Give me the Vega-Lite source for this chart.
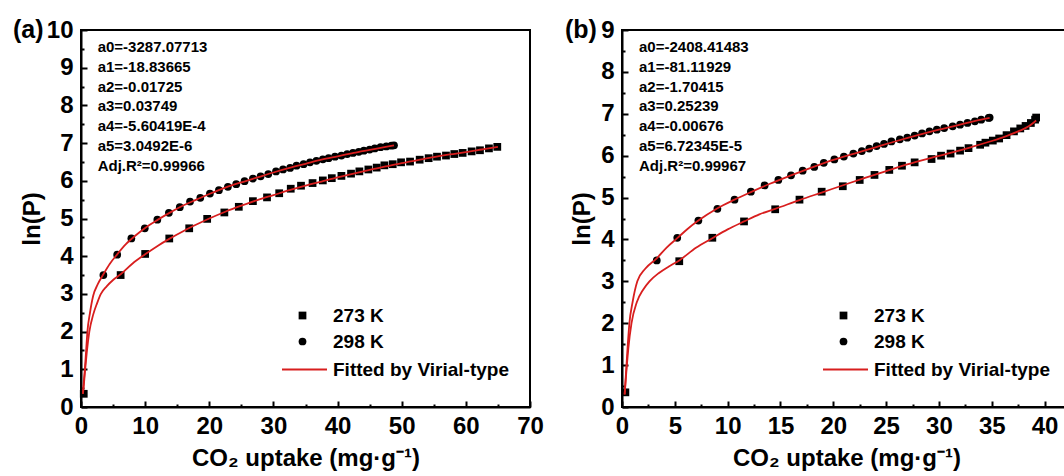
{
  "$schema": "https://vega.github.io/schema/vega-lite/v6.json",
  "padding": {"left": 12, "top": 17, "right": 0, "bottom": 0},
  "background": "white",
  "spacing": 19,
  "config": {
    "font": "Liberation Sans",
    "view": {"stroke": "black", "strokeWidth": 2},
    "axis": {"domainColor": "black", "domainWidth": 2, "tickColor": "black", "tickWidth": 2, "labelFont": "Liberation Sans", "labelFontSize": 24, "labelFontWeight": "bold", "labelColor": "black", "titleFont": "Liberation Sans", "titleFontSize": 24, "titleFontWeight": "bold", "titleColor": "black", "grid": false, "labelOverlap": false, "labelFlush": false},
    "title": {"font": "Liberation Sans", "fontSize": 25, "fontWeight": "bold", "color": "black"}
  },
  "resolve": {"scale": {"shape": "independent", "color": "independent"}, "legend": {"shape": "independent", "color": "independent"}},
  "datasets": {
    "a_pts": [
      {"T": "273 K", "uptake": 0.43, "lnP": 0.35}, {"T": "273 K", "uptake": 6.18, "lnP": 3.5}, {"T": "273 K", "uptake": 10.0, "lnP": 4.06}, {"T": "273 K", "uptake": 13.76, "lnP": 4.47}, {"T": "273 K", "uptake": 16.87, "lnP": 4.74}, {"T": "273 K", "uptake": 19.67, "lnP": 4.99}, {"T": "273 K", "uptake": 22.35, "lnP": 5.16}, {"T": "273 K", "uptake": 24.6, "lnP": 5.31}, {"T": "273 K", "uptake": 26.8, "lnP": 5.46}, {"T": "273 K", "uptake": 29.0, "lnP": 5.56}, {"T": "273 K", "uptake": 30.9, "lnP": 5.67}, {"T": "273 K", "uptake": 32.7, "lnP": 5.79}, {"T": "273 K", "uptake": 34.3, "lnP": 5.87}, {"T": "273 K", "uptake": 36.1, "lnP": 5.94}, {"T": "273 K", "uptake": 37.7, "lnP": 6.01}, {"T": "273 K", "uptake": 39.1, "lnP": 6.07}, {"T": "273 K", "uptake": 40.6, "lnP": 6.13}, {"T": "273 K", "uptake": 42.1, "lnP": 6.19}, {"T": "273 K", "uptake": 43.4, "lnP": 6.25}, {"T": "273 K", "uptake": 44.8, "lnP": 6.3}, {"T": "273 K", "uptake": 46.1, "lnP": 6.35}, {"T": "273 K", "uptake": 47.3, "lnP": 6.41}, {"T": "273 K", "uptake": 48.6, "lnP": 6.44}, {"T": "273 K", "uptake": 49.9, "lnP": 6.49}, {"T": "273 K", "uptake": 51.3, "lnP": 6.51}, {"T": "273 K", "uptake": 52.8, "lnP": 6.56}, {"T": "273 K", "uptake": 54.2, "lnP": 6.6}, {"T": "273 K", "uptake": 55.5, "lnP": 6.64}, {"T": "273 K", "uptake": 56.9, "lnP": 6.67}, {"T": "273 K", "uptake": 58.2, "lnP": 6.71}, {"T": "273 K", "uptake": 59.5, "lnP": 6.74}, {"T": "273 K", "uptake": 60.9, "lnP": 6.78}, {"T": "273 K", "uptake": 62.2, "lnP": 6.81}, {"T": "273 K", "uptake": 63.6, "lnP": 6.86}, {"T": "273 K", "uptake": 64.9, "lnP": 6.9},
      {"T": "298 K", "uptake": 3.49, "lnP": 3.5}, {"T": "298 K", "uptake": 5.64, "lnP": 4.04}, {"T": "298 K", "uptake": 7.85, "lnP": 4.47}, {"T": "298 K", "uptake": 9.94, "lnP": 4.74}, {"T": "298 K", "uptake": 11.9, "lnP": 4.97}, {"T": "298 K", "uptake": 13.7, "lnP": 5.15}, {"T": "298 K", "uptake": 15.4, "lnP": 5.3}, {"T": "298 K", "uptake": 17.0, "lnP": 5.45}, {"T": "298 K", "uptake": 18.6, "lnP": 5.55}, {"T": "298 K", "uptake": 20.1, "lnP": 5.66}, {"T": "298 K", "uptake": 21.5, "lnP": 5.75}, {"T": "298 K", "uptake": 22.9, "lnP": 5.84}, {"T": "298 K", "uptake": 24.2, "lnP": 5.91}, {"T": "298 K", "uptake": 25.5, "lnP": 5.99}, {"T": "298 K", "uptake": 26.8, "lnP": 6.06}, {"T": "298 K", "uptake": 28.0, "lnP": 6.12}, {"T": "298 K", "uptake": 29.2, "lnP": 6.18}, {"T": "298 K", "uptake": 30.4, "lnP": 6.25}, {"T": "298 K", "uptake": 31.5, "lnP": 6.3}, {"T": "298 K", "uptake": 32.6, "lnP": 6.34}, {"T": "298 K", "uptake": 33.6, "lnP": 6.4}, {"T": "298 K", "uptake": 34.7, "lnP": 6.44}, {"T": "298 K", "uptake": 35.7, "lnP": 6.49}, {"T": "298 K", "uptake": 36.7, "lnP": 6.53}, {"T": "298 K", "uptake": 37.7, "lnP": 6.57}, {"T": "298 K", "uptake": 38.6, "lnP": 6.6}, {"T": "298 K", "uptake": 39.6, "lnP": 6.64}, {"T": "298 K", "uptake": 40.6, "lnP": 6.67}, {"T": "298 K", "uptake": 41.5, "lnP": 6.71}, {"T": "298 K", "uptake": 42.4, "lnP": 6.74}, {"T": "298 K", "uptake": 43.3, "lnP": 6.77}, {"T": "298 K", "uptake": 44.1, "lnP": 6.8}, {"T": "298 K", "uptake": 45.0, "lnP": 6.83}, {"T": "298 K", "uptake": 45.8, "lnP": 6.86}, {"T": "298 K", "uptake": 46.7, "lnP": 6.89}, {"T": "298 K", "uptake": 47.6, "lnP": 6.91}, {"T": "298 K", "uptake": 48.4, "lnP": 6.93}, {"T": "298 K", "uptake": 48.8, "lnP": 6.94}
    ],
    "a_fit": [
      {"T": "298 K", "uptake": 0.3, "lnP": 0.35}, {"T": "298 K", "uptake": 0.45, "lnP": 0.7}, {"T": "298 K", "uptake": 0.6, "lnP": 1.0}, {"T": "298 K", "uptake": 0.8, "lnP": 1.5}, {"T": "298 K", "uptake": 1.0, "lnP": 2.0}, {"T": "298 K", "uptake": 1.4, "lnP": 2.5}, {"T": "298 K", "uptake": 1.9, "lnP": 2.95}, {"T": "298 K", "uptake": 2.6, "lnP": 3.25}, {"T": "298 K", "uptake": 3.49, "lnP": 3.52}, {"T": "298 K", "uptake": 4.5, "lnP": 3.8}, {"T": "298 K", "uptake": 5.64, "lnP": 4.05}, {"T": "298 K", "uptake": 7.0, "lnP": 4.32}, {"T": "298 K", "uptake": 8.5, "lnP": 4.55}, {"T": "298 K", "uptake": 10.0, "lnP": 4.75}, {"T": "298 K", "uptake": 12.0, "lnP": 4.97}, {"T": "298 K", "uptake": 14.0, "lnP": 5.17}, {"T": "298 K", "uptake": 16.0, "lnP": 5.35}, {"T": "298 K", "uptake": 18.0, "lnP": 5.5}, {"T": "298 K", "uptake": 20.0, "lnP": 5.65}, {"T": "298 K", "uptake": 22.5, "lnP": 5.82}, {"T": "298 K", "uptake": 25.0, "lnP": 5.96}, {"T": "298 K", "uptake": 27.5, "lnP": 6.09}, {"T": "298 K", "uptake": 30.0, "lnP": 6.22}, {"T": "298 K", "uptake": 32.5, "lnP": 6.34}, {"T": "298 K", "uptake": 35.0, "lnP": 6.45}, {"T": "298 K", "uptake": 37.5, "lnP": 6.56}, {"T": "298 K", "uptake": 40.0, "lnP": 6.65}, {"T": "298 K", "uptake": 42.5, "lnP": 6.74}, {"T": "298 K", "uptake": 45.0, "lnP": 6.82}, {"T": "298 K", "uptake": 47.5, "lnP": 6.9}, {"T": "298 K", "uptake": 48.8, "lnP": 6.94},
      {"T": "273 K", "uptake": 0.3, "lnP": 0.35}, {"T": "273 K", "uptake": 0.45, "lnP": 0.6}, {"T": "273 K", "uptake": 0.65, "lnP": 1.0}, {"T": "273 K", "uptake": 0.9, "lnP": 1.45}, {"T": "273 K", "uptake": 1.3, "lnP": 2.0}, {"T": "273 K", "uptake": 1.9, "lnP": 2.45}, {"T": "273 K", "uptake": 2.5, "lnP": 2.75}, {"T": "273 K", "uptake": 3.1, "lnP": 3.0}, {"T": "273 K", "uptake": 4.0, "lnP": 3.2}, {"T": "273 K", "uptake": 5.0, "lnP": 3.37}, {"T": "273 K", "uptake": 6.18, "lnP": 3.52}, {"T": "273 K", "uptake": 8.0, "lnP": 3.8}, {"T": "273 K", "uptake": 10.0, "lnP": 4.05}, {"T": "273 K", "uptake": 12.0, "lnP": 4.28}, {"T": "273 K", "uptake": 13.76, "lnP": 4.46}, {"T": "273 K", "uptake": 16.0, "lnP": 4.67}, {"T": "273 K", "uptake": 18.0, "lnP": 4.84}, {"T": "273 K", "uptake": 20.0, "lnP": 5.0}, {"T": "273 K", "uptake": 22.5, "lnP": 5.18}, {"T": "273 K", "uptake": 25.0, "lnP": 5.34}, {"T": "273 K", "uptake": 27.5, "lnP": 5.49}, {"T": "273 K", "uptake": 30.0, "lnP": 5.62}, {"T": "273 K", "uptake": 32.5, "lnP": 5.75}, {"T": "273 K", "uptake": 35.0, "lnP": 5.87}, {"T": "273 K", "uptake": 37.5, "lnP": 5.98}, {"T": "273 K", "uptake": 40.0, "lnP": 6.09}, {"T": "273 K", "uptake": 42.5, "lnP": 6.19}, {"T": "273 K", "uptake": 45.0, "lnP": 6.29}, {"T": "273 K", "uptake": 47.5, "lnP": 6.38}, {"T": "273 K", "uptake": 50.0, "lnP": 6.47}, {"T": "273 K", "uptake": 52.5, "lnP": 6.55}, {"T": "273 K", "uptake": 55.0, "lnP": 6.63}, {"T": "273 K", "uptake": 57.5, "lnP": 6.7}, {"T": "273 K", "uptake": 60.0, "lnP": 6.76}, {"T": "273 K", "uptake": 62.5, "lnP": 6.83}, {"T": "273 K", "uptake": 65.0, "lnP": 6.9}
    ],
    "b_pts": [
      {"T": "273 K", "uptake": 0.32, "lnP": 0.35}, {"T": "273 K", "uptake": 5.42, "lnP": 3.48}, {"T": "273 K", "uptake": 8.55, "lnP": 4.04}, {"T": "273 K", "uptake": 11.55, "lnP": 4.43}, {"T": "273 K", "uptake": 14.5, "lnP": 4.72}, {"T": "273 K", "uptake": 16.8, "lnP": 4.95}, {"T": "273 K", "uptake": 18.9, "lnP": 5.14}, {"T": "273 K", "uptake": 20.9, "lnP": 5.27}, {"T": "273 K", "uptake": 22.5, "lnP": 5.42}, {"T": "273 K", "uptake": 23.9, "lnP": 5.54}, {"T": "273 K", "uptake": 25.3, "lnP": 5.66}, {"T": "273 K", "uptake": 26.5, "lnP": 5.76}, {"T": "273 K", "uptake": 27.7, "lnP": 5.84}, {"T": "273 K", "uptake": 29.3, "lnP": 5.92}, {"T": "273 K", "uptake": 30.2, "lnP": 6.0}, {"T": "273 K", "uptake": 31.1, "lnP": 6.05}, {"T": "273 K", "uptake": 32.0, "lnP": 6.12}, {"T": "273 K", "uptake": 32.8, "lnP": 6.18}, {"T": "273 K", "uptake": 33.9, "lnP": 6.26}, {"T": "273 K", "uptake": 34.4, "lnP": 6.31}, {"T": "273 K", "uptake": 35.1, "lnP": 6.36}, {"T": "273 K", "uptake": 35.7, "lnP": 6.41}, {"T": "273 K", "uptake": 36.4, "lnP": 6.49}, {"T": "273 K", "uptake": 37.1, "lnP": 6.58}, {"T": "273 K", "uptake": 37.7, "lnP": 6.65}, {"T": "273 K", "uptake": 38.2, "lnP": 6.71}, {"T": "273 K", "uptake": 38.7, "lnP": 6.78}, {"T": "273 K", "uptake": 39.1, "lnP": 6.86}, {"T": "273 K", "uptake": 39.2, "lnP": 6.91},
      {"T": "298 K", "uptake": 3.29, "lnP": 3.5}, {"T": "298 K", "uptake": 5.23, "lnP": 4.04}, {"T": "298 K", "uptake": 7.23, "lnP": 4.45}, {"T": "298 K", "uptake": 9.03, "lnP": 4.73}, {"T": "298 K", "uptake": 10.65, "lnP": 4.95}, {"T": "298 K", "uptake": 12.2, "lnP": 5.14}, {"T": "298 K", "uptake": 13.5, "lnP": 5.29}, {"T": "298 K", "uptake": 14.8, "lnP": 5.42}, {"T": "298 K", "uptake": 16.0, "lnP": 5.53}, {"T": "298 K", "uptake": 17.1, "lnP": 5.64}, {"T": "298 K", "uptake": 18.2, "lnP": 5.73}, {"T": "298 K", "uptake": 19.1, "lnP": 5.83}, {"T": "298 K", "uptake": 20.1, "lnP": 5.91}, {"T": "298 K", "uptake": 21.0, "lnP": 5.98}, {"T": "298 K", "uptake": 21.9, "lnP": 6.05}, {"T": "298 K", "uptake": 22.7, "lnP": 6.11}, {"T": "298 K", "uptake": 23.4, "lnP": 6.17}, {"T": "298 K", "uptake": 24.1, "lnP": 6.23}, {"T": "298 K", "uptake": 24.8, "lnP": 6.28}, {"T": "298 K", "uptake": 25.5, "lnP": 6.34}, {"T": "298 K", "uptake": 26.3, "lnP": 6.39}, {"T": "298 K", "uptake": 27.0, "lnP": 6.43}, {"T": "298 K", "uptake": 27.7, "lnP": 6.48}, {"T": "298 K", "uptake": 28.4, "lnP": 6.53}, {"T": "298 K", "uptake": 29.1, "lnP": 6.58}, {"T": "298 K", "uptake": 29.8, "lnP": 6.62}, {"T": "298 K", "uptake": 30.5, "lnP": 6.66}, {"T": "298 K", "uptake": 31.3, "lnP": 6.7}, {"T": "298 K", "uptake": 32.0, "lnP": 6.74}, {"T": "298 K", "uptake": 32.7, "lnP": 6.78}, {"T": "298 K", "uptake": 33.4, "lnP": 6.82}, {"T": "298 K", "uptake": 34.0, "lnP": 6.86}, {"T": "298 K", "uptake": 34.7, "lnP": 6.9}, {"T": "298 K", "uptake": 34.8, "lnP": 6.91}
    ],
    "b_fit": [
      {"T": "298 K", "uptake": 0.25, "lnP": 0.3}, {"T": "298 K", "uptake": 0.4, "lnP": 0.9}, {"T": "298 K", "uptake": 0.55, "lnP": 1.5}, {"T": "298 K", "uptake": 0.7, "lnP": 2.0}, {"T": "298 K", "uptake": 1.0, "lnP": 2.5}, {"T": "298 K", "uptake": 1.45, "lnP": 3.0}, {"T": "298 K", "uptake": 2.2, "lnP": 3.3}, {"T": "298 K", "uptake": 3.29, "lnP": 3.55}, {"T": "298 K", "uptake": 4.2, "lnP": 3.8}, {"T": "298 K", "uptake": 5.23, "lnP": 4.03}, {"T": "298 K", "uptake": 6.2, "lnP": 4.25}, {"T": "298 K", "uptake": 7.23, "lnP": 4.45}, {"T": "298 K", "uptake": 9.0, "lnP": 4.74}, {"T": "298 K", "uptake": 10.65, "lnP": 4.95}, {"T": "298 K", "uptake": 12.2, "lnP": 5.13}, {"T": "298 K", "uptake": 14.0, "lnP": 5.33}, {"T": "298 K", "uptake": 16.0, "lnP": 5.53}, {"T": "298 K", "uptake": 18.0, "lnP": 5.72}, {"T": "298 K", "uptake": 20.0, "lnP": 5.9}, {"T": "298 K", "uptake": 22.0, "lnP": 6.05}, {"T": "298 K", "uptake": 24.0, "lnP": 6.2}, {"T": "298 K", "uptake": 26.0, "lnP": 6.35}, {"T": "298 K", "uptake": 28.0, "lnP": 6.49}, {"T": "298 K", "uptake": 30.0, "lnP": 6.62}, {"T": "298 K", "uptake": 32.0, "lnP": 6.74}, {"T": "298 K", "uptake": 34.0, "lnP": 6.86}, {"T": "298 K", "uptake": 34.8, "lnP": 6.9},
      {"T": "273 K", "uptake": 0.25, "lnP": 0.3}, {"T": "273 K", "uptake": 0.4, "lnP": 0.8}, {"T": "273 K", "uptake": 0.6, "lnP": 1.4}, {"T": "273 K", "uptake": 0.9, "lnP": 2.0}, {"T": "273 K", "uptake": 1.4, "lnP": 2.5}, {"T": "273 K", "uptake": 2.0, "lnP": 2.8}, {"T": "273 K", "uptake": 2.6, "lnP": 3.0}, {"T": "273 K", "uptake": 3.5, "lnP": 3.2}, {"T": "273 K", "uptake": 4.4, "lnP": 3.35}, {"T": "273 K", "uptake": 5.42, "lnP": 3.5}, {"T": "273 K", "uptake": 7.0, "lnP": 3.8}, {"T": "273 K", "uptake": 8.55, "lnP": 4.03}, {"T": "273 K", "uptake": 10.0, "lnP": 4.24}, {"T": "273 K", "uptake": 11.55, "lnP": 4.43}, {"T": "273 K", "uptake": 13.0, "lnP": 4.6}, {"T": "273 K", "uptake": 14.5, "lnP": 4.73}, {"T": "273 K", "uptake": 16.8, "lnP": 4.94}, {"T": "273 K", "uptake": 18.9, "lnP": 5.12}, {"T": "273 K", "uptake": 21.0, "lnP": 5.3}, {"T": "273 K", "uptake": 23.0, "lnP": 5.47}, {"T": "273 K", "uptake": 25.0, "lnP": 5.63}, {"T": "273 K", "uptake": 27.0, "lnP": 5.79}, {"T": "273 K", "uptake": 29.0, "lnP": 5.93}, {"T": "273 K", "uptake": 31.0, "lnP": 6.06}, {"T": "273 K", "uptake": 33.0, "lnP": 6.2}, {"T": "273 K", "uptake": 35.0, "lnP": 6.35}, {"T": "273 K", "uptake": 36.5, "lnP": 6.48}, {"T": "273 K", "uptake": 37.5, "lnP": 6.58}, {"T": "273 K", "uptake": 38.5, "lnP": 6.7}, {"T": "273 K", "uptake": 39.2, "lnP": 6.84}
    ]
  },
  "hconcat": [
    {
      "width": 449, "height": 377,
      "title": {"text": "(a)", "anchor": "start", "frame": "group", "orient": "top", "offset": -37, "dx": -68, "baseline": "middle", "align": "left"},
      "layer": [
        {
          "data": {"name": "a_pts"},
          "mark": {"type": "point", "filled": true, "size": 60, "opacity": 1, "color": "black"},
          "encoding": {
            "x": {"field": "uptake", "type": "quantitative", "scale": {"domain": [0, 70], "nice": false, "zero": true},
              "axis": {"title": "CO₂ uptake (mg·g⁻¹)", "values": [0, 5, 10, 15, 20, 25, 30, 35, 40, 45, 50, 55, 60, 65, 70], "labelExpr": "datum.value % 10 === 0 ? '' + datum.value : ''", "labelOverlap": false, "labelFontSize": {"condition": {"test": "datum.value % 10 !== 0", "value": 0}, "value": 24}, "tickSize": {"condition": {"test": "datum.value % 10 !== 0", "value": -3}, "value": -6}, "labelPadding": 13, "titlePadding": 8}},
            "y": {"field": "lnP", "type": "quantitative", "scale": {"domain": [0, 10], "nice": false},
              "axis": {"title": "ln(P)", "values": [0, 0.5, 1, 1.5, 2, 2.5, 3, 3.5, 4, 4.5, 5, 5.5, 6, 6.5, 7, 7.5, 8, 8.5, 9, 9.5, 10], "labelExpr": "datum.value % 1 === 0 ? '' + datum.value : ''", "labelOverlap": false, "labelFontSize": {"condition": {"test": "datum.value % 1 !== 0", "value": 0}, "value": 24}, "tickSize": {"condition": {"test": "datum.value % 1 !== 0", "value": -3}, "value": -6}, "labelPadding": 14, "titlePadding": 2}},
            "shape": {"field": "T", "type": "nominal", "scale": {"domain": ["273 K", "298 K"], "range": ["square", "circle"]},
              "legend": {"orient": "none", "legendX": 212, "legendY": 276, "title": null, "labelFontSize": 19, "labelFont": "Liberation Sans", "labelFontWeight": "bold", "labelColor": "black", "symbolFillColor": "black", "symbolStrokeColor": "black", "symbolSize": 60, "labelOffset": 21, "rowPadding": 6, "padding": 0}}
          }
        },
        {
          "data": {"name": "a_fit"},
          "mark": {"type": "line", "strokeWidth": 1.8, "interpolate": "monotone"},
          "encoding": {
            "x": {"field": "uptake", "type": "quantitative", "scale": {"domain": [0, 70], "nice": false, "zero": true},
              "axis": {"title": "CO₂ uptake (mg·g⁻¹)", "values": [0, 5, 10, 15, 20, 25, 30, 35, 40, 45, 50, 55, 60, 65, 70], "labelExpr": "datum.value % 10 === 0 ? '' + datum.value : ''", "labelOverlap": false, "labelFontSize": {"condition": {"test": "datum.value % 10 !== 0", "value": 0}, "value": 24}, "tickSize": {"condition": {"test": "datum.value % 10 !== 0", "value": -3}, "value": -6}, "labelPadding": 13, "titlePadding": 8}},
            "y": {"field": "lnP", "type": "quantitative", "scale": {"domain": [0, 10], "nice": false},
              "axis": {"title": "ln(P)", "values": [0, 0.5, 1, 1.5, 2, 2.5, 3, 3.5, 4, 4.5, 5, 5.5, 6, 6.5, 7, 7.5, 8, 8.5, 9, 9.5, 10], "labelExpr": "datum.value % 1 === 0 ? '' + datum.value : ''", "labelOverlap": false, "labelFontSize": {"condition": {"test": "datum.value % 1 !== 0", "value": 0}, "value": 24}, "tickSize": {"condition": {"test": "datum.value % 1 !== 0", "value": -3}, "value": -6}, "labelPadding": 14, "titlePadding": 2}},
            "detail": {"field": "T"},
            "color": {"datum": "Fitted by Virial-type", "scale": {"range": ["#d81e1e"]},
              "legend": {"orient": "none", "legendX": 200, "legendY": 316, "title": null, "labelFontSize": 19, "labelFont": "Liberation Sans", "labelFontWeight": "bold", "labelColor": "black", "labelLimit": 0, "symbolType": "stroke", "symbolSize": 2025, "symbolStrokeWidth": 2, "labelOffset": 5, "padding": 0}}
          }
        },
        {
          "data": {"values": [{"panel": "a"}]},
          "mark": {"type": "text", "align": "left", "baseline": "alphabetic", "fontSize": 15, "fontWeight": "bold", "font": "Liberation Sans", "color": "black", "lineHeight": 19.8},
          "encoding": {
            "x": {"datum": 2.6, "type": "quantitative", "scale": {"domain": [0, 70], "nice": false, "zero": true},
              "axis": {"title": "CO₂ uptake (mg·g⁻¹)", "values": [0, 5, 10, 15, 20, 25, 30, 35, 40, 45, 50, 55, 60, 65, 70], "labelExpr": "datum.value % 10 === 0 ? '' + datum.value : ''", "labelOverlap": false, "labelFontSize": {"condition": {"test": "datum.value % 10 !== 0", "value": 0}, "value": 24}, "tickSize": {"condition": {"test": "datum.value % 10 !== 0", "value": -3}, "value": -6}, "labelPadding": 13, "titlePadding": 8}},
            "y": {"datum": 9.417, "type": "quantitative", "scale": {"domain": [0, 10], "nice": false},
              "axis": {"title": "ln(P)", "values": [0, 0.5, 1, 1.5, 2, 2.5, 3, 3.5, 4, 4.5, 5, 5.5, 6, 6.5, 7, 7.5, 8, 8.5, 9, 9.5, 10], "labelExpr": "datum.value % 1 === 0 ? '' + datum.value : ''", "labelOverlap": false, "labelFontSize": {"condition": {"test": "datum.value % 1 !== 0", "value": 0}, "value": 24}, "tickSize": {"condition": {"test": "datum.value % 1 !== 0", "value": -3}, "value": -6}, "labelPadding": 14, "titlePadding": 2}},
            "text": {"value": ["a0=-3287.07713", "a1=-18.83665", "a2=-0.01725", "a3=0.03749", "a4=-5.60419E-4", "a5=3.0492E-6", "Adj.R²=0.99966"]}
          }
        }
      ]
    },
    {
      "width": 449, "height": 377,
      "title": {"text": "(b)", "anchor": "start", "frame": "group", "orient": "top", "offset": -37, "dx": -57, "baseline": "middle", "align": "left"},
      "layer": [
        {
          "data": {"name": "b_pts"},
          "mark": {"type": "point", "filled": true, "size": 60, "opacity": 1, "color": "black"},
          "encoding": {
            "x": {"field": "uptake", "type": "quantitative", "scale": {"domain": [0, 42.5], "nice": false, "zero": true},
              "axis": {"title": "CO₂ uptake (mg·g⁻¹)", "values": [0, 2.5, 5, 7.5, 10, 12.5, 15, 17.5, 20, 22.5, 25, 27.5, 30, 32.5, 35, 37.5, 40, 42.5], "labelExpr": "datum.value % 5 === 0 ? '' + datum.value : ''", "labelOverlap": false, "labelFontSize": {"condition": {"test": "datum.value % 5 !== 0", "value": 0}, "value": 24}, "tickSize": {"condition": {"test": "datum.value % 5 !== 0", "value": -3}, "value": -6}, "labelPadding": 13, "titlePadding": 8}},
            "y": {"field": "lnP", "type": "quantitative", "scale": {"domain": [0, 9], "nice": false},
              "axis": {"title": "ln(P)", "values": [0, 0.5, 1, 1.5, 2, 2.5, 3, 3.5, 4, 4.5, 5, 5.5, 6, 6.5, 7, 7.5, 8, 8.5, 9], "labelExpr": "datum.value % 1 === 0 ? '' + datum.value : ''", "labelOverlap": false, "labelFontSize": {"condition": {"test": "datum.value % 1 !== 0", "value": 0}, "value": 24}, "tickSize": {"condition": {"test": "datum.value % 1 !== 0", "value": -3}, "value": -6}, "labelPadding": 14, "titlePadding": 6}},
            "shape": {"field": "T", "type": "nominal", "scale": {"domain": ["273 K", "298 K"], "range": ["square", "circle"]},
              "legend": {"orient": "none", "legendX": 212, "legendY": 276, "title": null, "labelFontSize": 19, "labelFont": "Liberation Sans", "labelFontWeight": "bold", "labelColor": "black", "symbolFillColor": "black", "symbolStrokeColor": "black", "symbolSize": 60, "labelOffset": 21, "rowPadding": 6, "padding": 0}}
          }
        },
        {
          "data": {"name": "b_fit"},
          "mark": {"type": "line", "strokeWidth": 1.8, "interpolate": "monotone"},
          "encoding": {
            "x": {"field": "uptake", "type": "quantitative", "scale": {"domain": [0, 42.5], "nice": false, "zero": true},
              "axis": {"title": "CO₂ uptake (mg·g⁻¹)", "values": [0, 2.5, 5, 7.5, 10, 12.5, 15, 17.5, 20, 22.5, 25, 27.5, 30, 32.5, 35, 37.5, 40, 42.5], "labelExpr": "datum.value % 5 === 0 ? '' + datum.value : ''", "labelOverlap": false, "labelFontSize": {"condition": {"test": "datum.value % 5 !== 0", "value": 0}, "value": 24}, "tickSize": {"condition": {"test": "datum.value % 5 !== 0", "value": -3}, "value": -6}, "labelPadding": 13, "titlePadding": 8}},
            "y": {"field": "lnP", "type": "quantitative", "scale": {"domain": [0, 9], "nice": false},
              "axis": {"title": "ln(P)", "values": [0, 0.5, 1, 1.5, 2, 2.5, 3, 3.5, 4, 4.5, 5, 5.5, 6, 6.5, 7, 7.5, 8, 8.5, 9], "labelExpr": "datum.value % 1 === 0 ? '' + datum.value : ''", "labelOverlap": false, "labelFontSize": {"condition": {"test": "datum.value % 1 !== 0", "value": 0}, "value": 24}, "tickSize": {"condition": {"test": "datum.value % 1 !== 0", "value": -3}, "value": -6}, "labelPadding": 14, "titlePadding": 6}},
            "detail": {"field": "T"},
            "color": {"datum": "Fitted by Virial-type", "scale": {"range": ["#d81e1e"]},
              "legend": {"orient": "none", "legendX": 200, "legendY": 316, "title": null, "labelFontSize": 19, "labelFont": "Liberation Sans", "labelFontWeight": "bold", "labelColor": "black", "labelLimit": 0, "symbolType": "stroke", "symbolSize": 2025, "symbolStrokeWidth": 2, "labelOffset": 5, "padding": 0}}
          }
        },
        {
          "data": {"values": [{"panel": "b"}]},
          "mark": {"type": "text", "align": "left", "baseline": "alphabetic", "fontSize": 15, "fontWeight": "bold", "font": "Liberation Sans", "color": "black", "lineHeight": 19.8},
          "encoding": {
            "x": {"datum": 1.61, "type": "quantitative", "scale": {"domain": [0, 42.5], "nice": false, "zero": true},
              "axis": {"title": "CO₂ uptake (mg·g⁻¹)", "values": [0, 2.5, 5, 7.5, 10, 12.5, 15, 17.5, 20, 22.5, 25, 27.5, 30, 32.5, 35, 37.5, 40, 42.5], "labelExpr": "datum.value % 5 === 0 ? '' + datum.value : ''", "labelOverlap": false, "labelFontSize": {"condition": {"test": "datum.value % 5 !== 0", "value": 0}, "value": 24}, "tickSize": {"condition": {"test": "datum.value % 5 !== 0", "value": -3}, "value": -6}, "labelPadding": 13, "titlePadding": 8}},
            "y": {"datum": 8.476, "type": "quantitative", "scale": {"domain": [0, 9], "nice": false},
              "axis": {"title": "ln(P)", "values": [0, 0.5, 1, 1.5, 2, 2.5, 3, 3.5, 4, 4.5, 5, 5.5, 6, 6.5, 7, 7.5, 8, 8.5, 9], "labelExpr": "datum.value % 1 === 0 ? '' + datum.value : ''", "labelOverlap": false, "labelFontSize": {"condition": {"test": "datum.value % 1 !== 0", "value": 0}, "value": 24}, "tickSize": {"condition": {"test": "datum.value % 1 !== 0", "value": -3}, "value": -6}, "labelPadding": 14, "titlePadding": 6}},
            "text": {"value": ["a0=-2408.41483", "a1=-81.11929", "a2=-1.70415", "a3=0.25239", "a4=-0.00676", "a5=6.72345E-5", "Adj.R²=0.99967"]}
          }
        }
      ]
    }
  ]
}
